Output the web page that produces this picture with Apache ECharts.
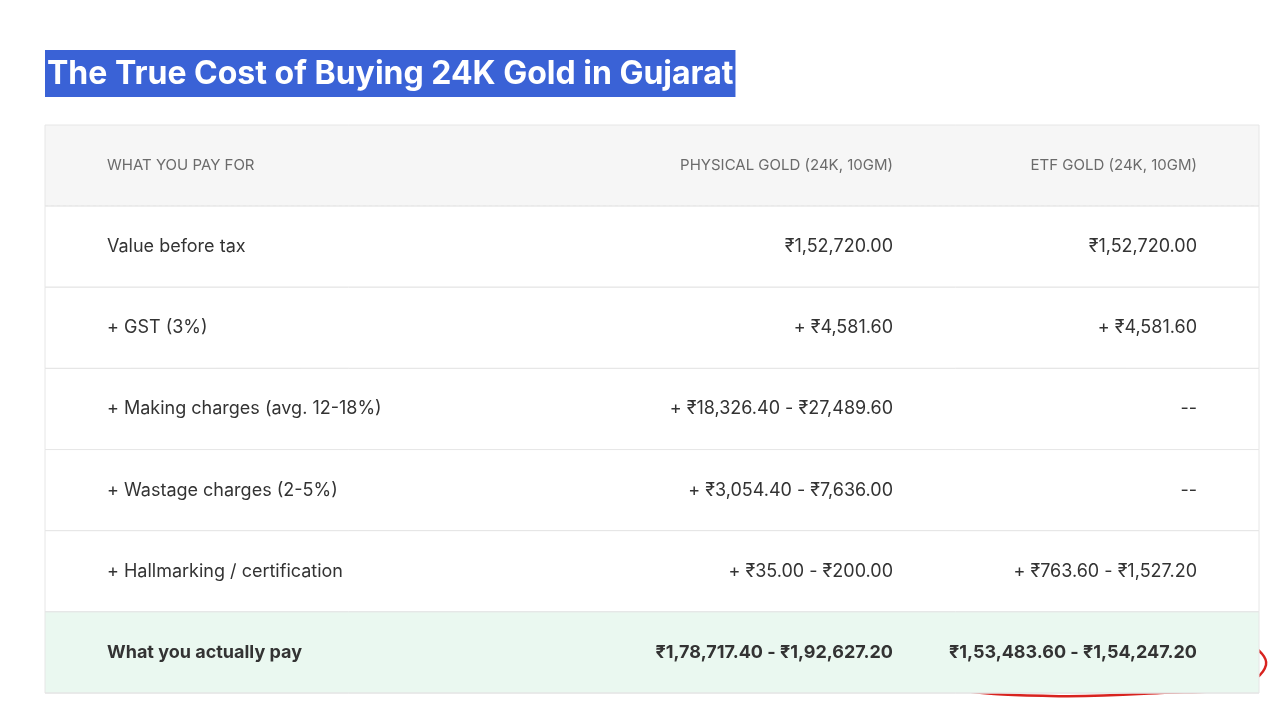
<!DOCTYPE html>
<html><head><meta charset="utf-8">
<script src="https://cdn.jsdelivr.net/npm/echarts@6/dist/echarts.min.js"></script>
<style>html,body{margin:0;background:#fff}#main{width:1280px;height:720px}</style>
</head><body><div id="main"></div>
<script>
var headers = ['WHAT YOU PAY FOR', 'PHYSICAL GOLD (24K, 10GM)', 'ETF GOLD (24K, 10GM)'];
var items = ['Value before tax', '+ GST (3%)', '+ Making charges (avg. 12-18%)', '+ Wastage charges (2-5%)', '+ Hallmarking / certification', 'What you actually pay'];
var physical = ['₹1,52,720.00', '+ ₹4,581.60', '+ ₹18,326.40 - ₹27,489.60', '+ ₹3,054.40 - ₹7,636.00', '+ ₹35.00 - ₹200.00', '₹1,78,717.40 - ₹1,92,627.20'];
var etf = ['₹1,52,720.00', '+ ₹4,581.60', '--', '--', '+ ₹763.60 - ₹1,527.20', '₹1,53,483.60 - ₹1,54,247.20'];

var rows = [headers].concat(items.map(function (t, i) { return [t, physical[i], etf[i]]; }));
var cats = rows.map(function (r, i) { return 'r' + i; });

var chart = echarts.init(document.getElementById('main'));
chart.setOption({
  animation: false,
  title: {
    text: 'The True Cost of Buying 24K Gold in Gujarat',
    left: 45, top: 50, padding: [8, 2, 7, 2],
    backgroundColor: '#3a62d6',
    textStyle: { color: '#fff', fontSize: 32, fontWeight: 'bold', fontFamily: 'Inter' }
  },
  grid: { left: 45, right: 21, top: 125, bottom: 27 },
  xAxis: { type: 'value', min: 0, max: 1, show: false },
  yAxis: { type: 'category', data: cats, inverse: true, show: false },
  series: [{
    type: 'custom',
    data: rows.map(function (r, i) { return [0, i]; }),
    encode: { x: 0, y: 1 },
    renderItem: function (params, api) {
      var i = api.value(1);
      var cs = params.coordSys;
      var cy = api.coord([0, i])[1];
      var h = api.size([0, 1])[1];
      var top = cy - h / 2;
      var r = rows[i];
      var header = i === 0, total = i === rows.length - 1;
      var bg = header ? '#f6f6f6' : (total ? '#eaf8f0' : '#fff');
      var font = header ? { fontSize: 15, fill: '#6b6b6b' } : { fontSize: 18, fill: '#333', fontWeight: total ? 'bold' : 'normal' };
      function txt(s, x, align) {
        return { type: 'text', style: Object.assign({ text: s, x: x, y: cy, align: align, verticalAlign: 'middle', fontFamily: 'Inter' }, font) };
      }
      var lineStyle = { stroke: '#e4e4e4', lineWidth: 1 };
      if (header) lineStyle.lineDash = [3, 3];
      return {
        type: 'group',
        children: [
          { type: 'rect', shape: { x: cs.x, y: top, width: cs.width, height: h }, style: { fill: bg, stroke: '#e6e6e6', lineWidth: 1 } },
          { type: 'line', shape: { x1: cs.x, y1: top + h, x2: cs.x + cs.width, y2: top + h }, style: lineStyle },
          txt(r[0], cs.x + 62, 'left'),
          txt(r[1], 893, 'right'),
          txt(r[2], 1197, 'right')
        ]
      };
    }
  }],
  graphic: [{
    type: 'polyline',
    shape: {
      points: [[925, 616], [922, 645], [926, 675], [945, 688], [1050, 696], [1160, 693], [1240, 686], [1266, 665], [1250, 645], [1200, 636], [1080, 630], [960, 626], [918, 624]],
      smooth: 0.4
    },
    style: { fill: 'none', stroke: '#d8231f', lineWidth: 2.5 }
  }]
});
</script></body></html>
